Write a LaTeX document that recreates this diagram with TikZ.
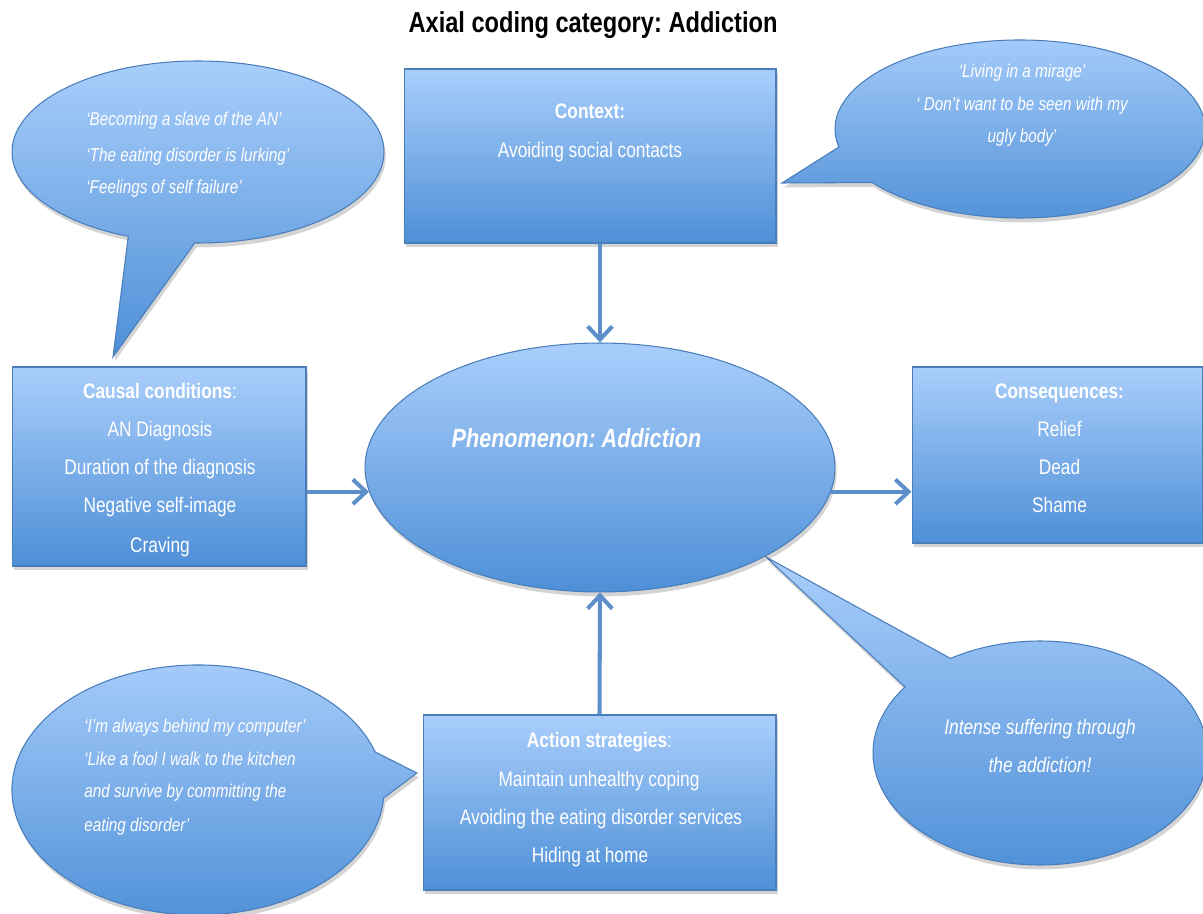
\documentclass[tikz,border=0pt]{standalone}
\usepackage{fontspec}
\setmainfont{Liberation Sans}[FakeStretch=0.82]
\usetikzlibrary{shapes.geometric,shadows,arrows.meta}
\frenchspacing

\definecolor{fillTop}{HTML}{A9CEFB}
\definecolor{fillBot}{HTML}{4E8FD7}
\definecolor{edgeBlue}{HTML}{4A7EBB}
\definecolor{arrowBlue}{HTML}{5C8FCA}

\tikzset{
  soft shadow/.style={drop shadow={shadow xshift=1pt, shadow yshift=-2.5pt, opacity=0.28, fill=black!60}},
  blueshape/.style={draw=edgeBlue, line width=0.6pt, top color=fillTop, bottom color=fillBot, soft shadow},
  box/.style={blueshape, rectangle, inner sep=0pt},
  flowarrow/.style={draw=arrowBlue, line width=2.3pt, -{Straight Barb[length=7.5pt,width=14pt]}},
  bodytext/.style={text=white, inner sep=0pt, anchor=base, font=\fontsize{12}{14}\selectfont},
  headtext/.style={bodytext, font=\fontsize{12}{14}\selectfont\bfseries},
  quotetext/.style={text=white, inner sep=0pt, anchor=base west, font=\fontsize{10.6}{12}\selectfont\itshape},
  quotemid/.style={quotetext, anchor=base},
}

\begin{document}
\begin{tikzpicture}[x=0.02cm, y=0.02cm]
\useasboundingbox (0,0) rectangle (1203,913);

% title
\node[font=\fontsize{16.4}{18}\selectfont\bfseries, anchor=base, inner sep=0pt] (title) at (593,880) {Axial coding category: Addiction};

% speech bubbles (ellipse with a pointed tail)
\draw[blueshape] (198,761) ++(269:186 and 91) arc[start angle=269, end angle=608, x radius=186, y radius=91] -- (113,556) -- cycle;
\draw[blueshape] (1020,784) ++(217:185 and 89) arc[start angle=217, end angle=551.7, x radius=185, y radius=89] -- (782,730) -- cycle;
\draw[blueshape] (198,123) ++(17.7:186 and 125) arc[start angle=17.7, end angle=356.3, x radius=186, y radius=125] -- (417,140) -- cycle;
\draw[blueshape] (1040,160) ++(143.9:167 and 112) arc[start angle=143.9, end angle=482.4, x radius=167, y radius=112] -- (766,356) -- cycle;

% boxes and central phenomenon
\node[box, minimum width=7.44cm, minimum height=3.48cm] (ctx) at (590,757) {};
\node[box, minimum width=5.88cm, minimum height=3.98cm] (caus) at (159,446.5) {};
\node[box, minimum width=5.82cm, minimum height=3.52cm] (cons) at (1057.5,458) {};
\node[box, minimum width=7.06cm, minimum height=3.5cm] (act) at (599.5,110.5) {};
\node[blueshape, ellipse, inner sep=0pt, minimum width=9.4cm, minimum height=4.98cm] (ph) at (600,445.5) {};

% connectors
\draw[flowarrow] (ctx.south -| ph.north) -- (ph.north);
\draw[flowarrow] (act.north) -- (ph.south);
\draw[flowarrow] (caus.east |- ph.186) -- (ph.186);
\draw[flowarrow] (ph.-6) -- (cons.west |- ph.-6);

% phenomenon label
\node[text=white, inner sep=0pt, anchor=base, font=\fontsize{15}{17}\selectfont\bfseries\itshape] (phtext) at (576.5,465) {Phenomenon: Addiction};

% context
\node[headtext] (ctx1) at (590,794) {Context:};
\node[bodytext] (ctx2) at (590,755) {Avoiding social contacts};

% causal conditions
\node[bodytext] (caus1) at (160,514) {\textbf{Causal conditions}:};
\node[bodytext] (caus2) at (160,476) {AN Diagnosis};
\node[bodytext] (caus3) at (160,438) {Duration of the diagnosis};
\node[bodytext] (caus4) at (160,400) {Negative self-image};
\node[bodytext] (caus5) at (160,360) {Craving};

% consequences
\node[headtext] (cons1) at (1059.5,514) {Consequences:};
\node[bodytext] (cons2) at (1059.5,476) {Relief};
\node[bodytext] (cons3) at (1059.5,438) {Dead};
\node[bodytext] (cons4) at (1059.5,400) {Shame};

% action strategies
\node[bodytext] (act1) at (599.5,166) {\textbf{Action strategies}:};
\node[bodytext] (act2) at (599,127) {Maintain unhealthy coping};
\node[bodytext] (act3) at (601,89) {Avoiding the eating disorder services};
\node[bodytext] (act4) at (590,51) {Hiding at home};

% quotes
\node[quotetext] (q1a) at (86,787) {‘Becoming a slave of the AN’};
\node[quotetext] (q1b) at (86,751) {‘The eating disorder is lurking’};
\node[quotetext] (q1c) at (86,719) {‘Feelings of self failure’};

\node[quotemid] (q2a) at (1022,835) {‘Living in a mirage’};
\node[quotemid] (q2b) at (1022,802) {‘ Don’t want to be seen with my};
\node[quotemid] (q2c) at (1022,770) {ugly body’};

\node[quotetext] (q3a) at (84,181) {‘I’m always behind my computer’};
\node[quotetext] (q3b) at (84,148) {‘Like a fool I walk to the kitchen};
\node[quotetext] (q3c) at (84,116) {and survive by committing the};
\node[quotetext] (q3d) at (84,82) {eating disorder’};

\node[text=white, inner sep=0pt, anchor=base, font=\fontsize{12}{14}\selectfont\itshape] (q4a) at (1040,179) {Intense suffering through};
\node[text=white, inner sep=0pt, anchor=base, font=\fontsize{12}{14}\selectfont\itshape] (q4b) at (1040,141) {the addiction!};
\end{tikzpicture}
\end{document}
